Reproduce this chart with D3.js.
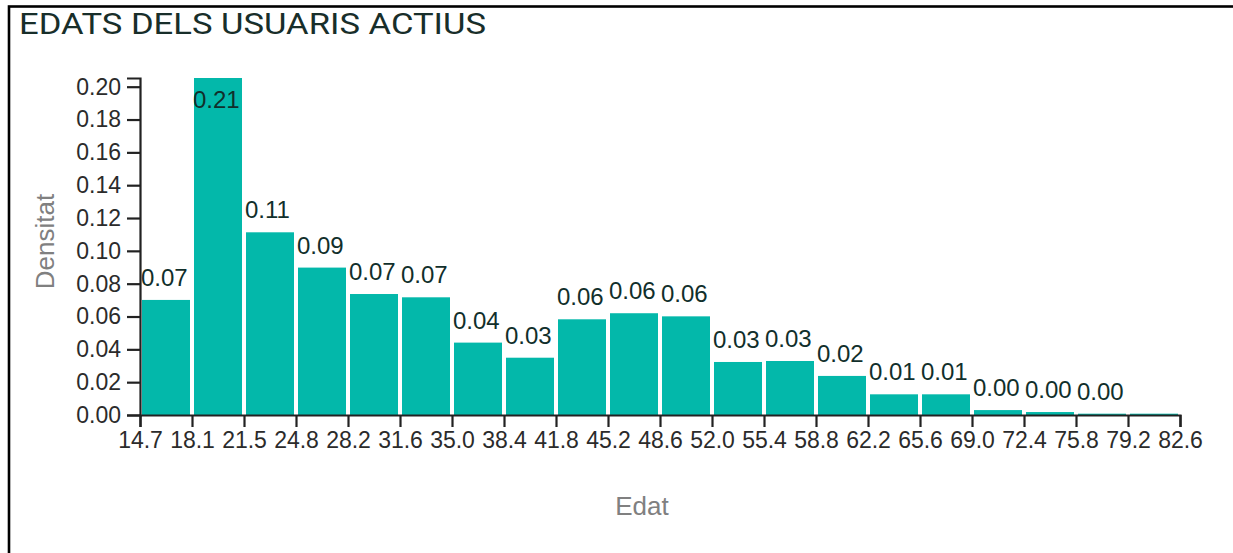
<!DOCTYPE html>
<html>
<head>
<meta charset="utf-8">
<script src="https://cdn.jsdelivr.net/npm/d3@7"></script>
<style>
  html, body { margin: 0; padding: 0; background: #fff; }
  svg { display: block; }
  .axis text { font-family: "Liberation Sans", Arial, sans-serif; font-size: 23px; fill: #2b2b2b; }
  .axis path, .axis line { stroke: #222; stroke-width: 2.2px; }
</style>
</head>
<body>
<svg id="chart" width="1233" height="553"></svg>
<script>
// ---- data ----
const title = "EDATS DELS USUARIS ACTIUS";
const xLabel = "Edat";
const yLabel = "Densitat";
const binEdgeLabels = ["14.7","18.1","21.5","24.8","28.2","31.6","35.0","38.4","41.8","45.2","48.6",
                       "52.0","55.4","58.8","62.2","65.6","69.0","72.4","75.8","79.2","82.6"];
const densities = [0.0701, 0.2053, 0.1113, 0.0898, 0.0737, 0.0717, 0.0441, 0.0349, 0.0583, 0.0620,
                   0.0601, 0.0323, 0.0329, 0.0238, 0.0126, 0.0126, 0.0030, 0.0018, 0.0008, 0.0008];
const yTickValues = [0, 0.02, 0.04, 0.06, 0.08, 0.10, 0.12, 0.14, 0.16, 0.18, 0.20];

// ---- layout ----
const svg = d3.select("#chart");
const plotLeft = 140, plotRight = 1180, plotTop = 78, plotBottom = 415;

// frame
svg.append("rect")
  .attr("x", 9).attr("y", 6.5)
  .attr("width", 1240).attr("height", 600)
  .attr("fill", "none").attr("stroke", "#000").attr("stroke-width", 2.6);

svg.append("text")
  .attr("x", 19).attr("y", 34)
  .attr("textLength", 467).attr("lengthAdjust", "spacingAndGlyphs")
  .style("font-family", "Roboto, 'DejaVu Sans', sans-serif")
  .style("font-weight", 400)
  .style("font-size", "30px")
  .style("fill", "#182e2a")
  .text(title);

const x = d3.scaleLinear().domain([0, densities.length]).range([plotLeft, plotRight]);
const y = d3.scaleLinear().domain([0, d3.max(densities)]).range([plotBottom, plotTop]);

// bars
svg.append("g").selectAll("rect")
  .data(densities)
  .join("rect")
  .attr("x", (d, i) => x(i) + 2)
  .attr("width", (d, i) => x(i + 1) - x(i) - 4)
  .attr("y", d => y(d))
  .attr("height", d => plotBottom + 1 - y(d))
  .attr("fill", "#03b8aa");

// bar labels (the last bin has none in the original)
svg.append("g").selectAll("text")
  .data(densities.slice(0, -1))
  .join("text")
  .attr("x", (d, i) => x(i) + 1)
  .attr("y", d => (y(d) - 14 < plotTop) ? y(d) + 30 : y(d) - 14)
  .style("font-family", "'Liberation Sans', Arial, sans-serif")
  .style("font-size", "24px")
  .style("fill", "#112f2b")
  .text(d => d3.format(".2f")(d));

// axes
svg.append("g")
  .attr("class", "axis")
  .attr("transform", `translate(0,${plotBottom})`)
  .call(d3.axisBottom(x)
    .tickValues(d3.range(binEdgeLabels.length))
    .tickFormat(i => binEdgeLabels[i])
    .tickSize(12).tickSizeOuter(12).tickPadding(5));

svg.append("g")
  .attr("class", "axis")
  .attr("transform", `translate(${plotLeft},0)`)
  .call(d3.axisLeft(y)
    .tickValues(yTickValues)
    .tickFormat(d3.format(".2f"))
    .tickSize(13).tickSizeOuter(13).tickPadding(6));

// axis titles
svg.append("text")
  .attr("transform", "translate(54,241.5) rotate(-90)")
  .attr("text-anchor", "middle")
  .style("font-family", "'Liberation Sans', Arial, sans-serif")
  .style("font-size", "26px")
  .style("fill", "#808080")
  .text(yLabel);

svg.append("text")
  .attr("x", 642).attr("y", 515)
  .attr("text-anchor", "middle")
  .style("font-family", "'Liberation Sans', Arial, sans-serif")
  .style("font-size", "26px")
  .style("fill", "#808080")
  .text(xLabel);
</script>
</body>
</html>
